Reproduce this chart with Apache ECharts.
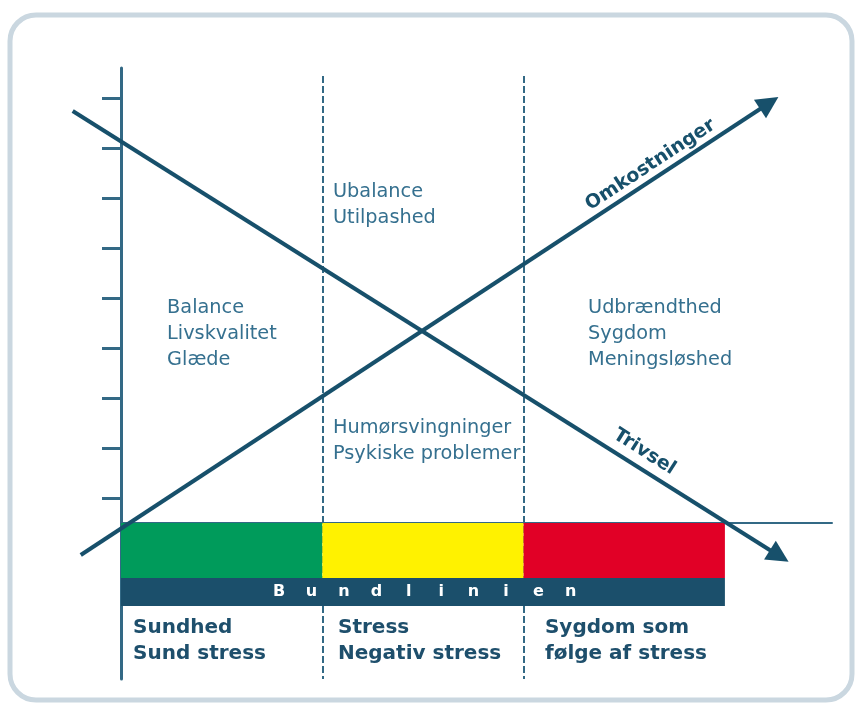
<!DOCTYPE html>
<html>
<head>
<meta charset="utf-8">
<script src="https://cdn.jsdelivr.net/npm/echarts@6/dist/echarts.min.js"></script>
<style>
  html, body { margin: 0; background: #fff; }
  #chart { width: 855px; height: 713px; }
</style>
</head>
<body>
<div id="chart"></div>
<script>
// niveau-streger på den lodrette akse
const levelTicks = [0.5, 1.5, 2.5, 3.5, 4.5, 5.5, 6.5, 7.5, 8.5];

// de tre zoner langs x (en enhed pr. zone)
const zoneSpans = [[0, 1], [1, 2], [2, 3]];
const zoneBorders = [1, 2];
const zoneLabels = [
  ['Sundhed', 'Sund stress'],
  ['Stress', 'Negativ stress'],
  ['Sygdom som', 'følge af stress']
];
const stateTexts = [
  ['Balance', 'Livskvalitet', 'Glæde'],
  ['Ubalance', 'Utilpashed'],
  ['Humørsvingninger', 'Psykiske problemer'],
  ['Udbrændthed', 'Sygdom', 'Meningsløshed']
];
const bottomLineTitle = 'Bundlinien';

// de to kurver (start, slut)
const trivsel = [[-0.24, 8.24], [3.27, -0.66]];
const omkostninger = [[-0.2, -0.64], [3.22, 8.4]];
const curveNames = ['Trivsel', 'Omkostninger'];

// --- layout ---
const stateAnchors = [[0.229, 4.3], [1.053, 6.62], [1.053, 1.9], [2.32, 4.3]];
const zoneLabelAnchors = [[0.06, -2.1], [1.078, -2.1], [2.106, -2.1]];
const curveLabelAnchors = [[2.6, 1.42], [2.63, 7.16]];
const BAR_TOP = 0, BAR_BOTTOM = -1.1, BAND_BOTTOM = -1.66;
const Y_MIN = -3.12, Y_MAX = 9.1, DASH_TOP = 8.94;

const zoneColors = ['#009b5b', '#fff200', '#e10026'];
const DARK = '#17506b';
const AXIS = '#336985';

const chart = echarts.init(document.getElementById('chart'));

function textSeries(lines, anchors, font, color, gap) {
  return {
    type: 'custom',
    coordinateSystem: 'cartesian2d',
    silent: true,
    z: 6,
    data: anchors.map((a, i) => [a[0], a[1], i]),
    renderItem: (params, api) => {
      const p = api.coord([api.value(0), api.value(1)]);
      return {
        type: 'group',
        children: lines[params.dataIndex].map((t, k) => ({
          type: 'text',
          x: p[0],
          y: p[1] + k * gap,
          style: { text: t, fill: color, font: font, align: 'left', verticalAlign: 'middle' }
        }))
      };
    }
  };
}

const curves = [trivsel, omkostninger];

const option = {
  animation: false,
  graphic: [{
    type: 'rect',
    shape: { x: 10, y: 15, width: 842, height: 685, r: 26 },
    style: { fill: 'none', stroke: '#cad7e0', lineWidth: 5 },
    z: -1
  }],
  grid: { left: 121, right: 23, top: 68, bottom: 34 },
  xAxis: {
    type: 'value', min: 0, max: 3.532,
    axisLine: { show: true, onZero: true, lineStyle: { color: AXIS, width: 2 } },
    axisTick: { show: false }, axisLabel: { show: false }, splitLine: { show: false }
  },
  yAxis: {
    type: 'value', min: Y_MIN, max: Y_MAX,
    axisLine: { show: true, lineStyle: { color: AXIS, width: 3 } },
    axisTick: { show: true, customValues: levelTicks, length: 19, lineStyle: { color: AXIS, width: 3 } },
    axisLabel: { show: false },
    splitLine: { show: false }
  },
  series: [
    {
      // stiplede zonegrænser
      type: 'line',
      data: [],
      silent: true,
      z: 1,
      markLine: {
        silent: true,
        z: 1,
        symbol: 'none',
        label: { show: false },
        lineStyle: { color: AXIS, width: 2, type: [7, 3] },
        data: zoneBorders.map(x => [{ coord: [x, DASH_TOP] }, { coord: [x, Y_MIN] }])
      }
    },
    {
      // farvede zoner + Bundlinien
      type: 'custom',
      coordinateSystem: 'cartesian2d',
      silent: true,
      z: 3,
      data: zoneSpans.map((s, i) => [s[0], s[1], i]),
      renderItem: (params, api) => {
        const a = api.coord([api.value(0), BAR_TOP]);
        const b = api.coord([api.value(1), BAR_BOTTOM]);
        const children = [{
          type: 'rect',
          shape: { x: a[0], y: a[1], width: b[0] - a[0], height: b[1] - a[1] },
          style: { fill: zoneColors[params.dataIndex] }
        }];
        if (params.dataIndex === 0) {
          const c = api.coord([zoneSpans[0][0], BAR_BOTTOM]);
          const d = api.coord([zoneSpans[2][1], BAND_BOTTOM]);
          children.push({
            type: 'rect',
            shape: { x: c[0], y: c[1], width: d[0] - c[0], height: d[1] - c[1] },
            style: { fill: '#1b4f6b' }
          });
          const letters = bottomLineTitle.split('');
          const pitch = 32.4;
          const cx = (c[0] + d[0]) / 2 + 2;
          const cy = (c[1] + d[1]) / 2;
          letters.forEach((ch, k) => {
            children.push({
              type: 'text',
              x: cx + (k - (letters.length - 1) / 2) * pitch,
              y: cy,
              style: { text: ch, fill: '#ffffff', font: 'bold 16px "DejaVu Sans"', align: 'center', verticalAlign: 'middle' }
            });
          });
        }
        return { type: 'group', children: children };
      }
    },
    {
      type: 'lines',
      coordinateSystem: 'cartesian2d',
      clip: false,
      silent: true,
      z: 4,
      symbol: ['none', 'triangle'],
      symbolSize: [26, 22],
      lineStyle: { color: DARK, width: 4, opacity: 1 },
      data: curves.map(c => ({ coords: c }))
    },
    {
      // kurvenavne langs linjerne
      type: 'custom',
      coordinateSystem: 'cartesian2d',
      silent: true,
      z: 6,
      data: curveLabelAnchors.map((a, i) => [a[0], a[1], i]),
      renderItem: (params, api) => {
        const c = curves[params.dataIndex];
        const p0 = api.coord(c[0]);
        const p1 = api.coord(c[1]);
        const ang = -Math.atan2(p1[1] - p0[1], p1[0] - p0[0]);
        const p = api.coord([api.value(0), api.value(1)]);
        return {
          type: 'text',
          x: p[0], y: p[1],
          rotation: ang,
          style: { text: curveNames[params.dataIndex], fill: DARK, font: 'bold 19px "DejaVu Sans"', align: 'center', verticalAlign: 'middle' }
        };
      }
    },
    textSeries(stateTexts, stateAnchors, '19.3px "DejaVu Sans"', '#35708f', 26),
    textSeries(zoneLabels, zoneLabelAnchors, 'bold 20px "DejaVu Sans"', '#1e4f6c', 26)
  ]
};

chart.setOption(option);
</script>
</body>
</html>
